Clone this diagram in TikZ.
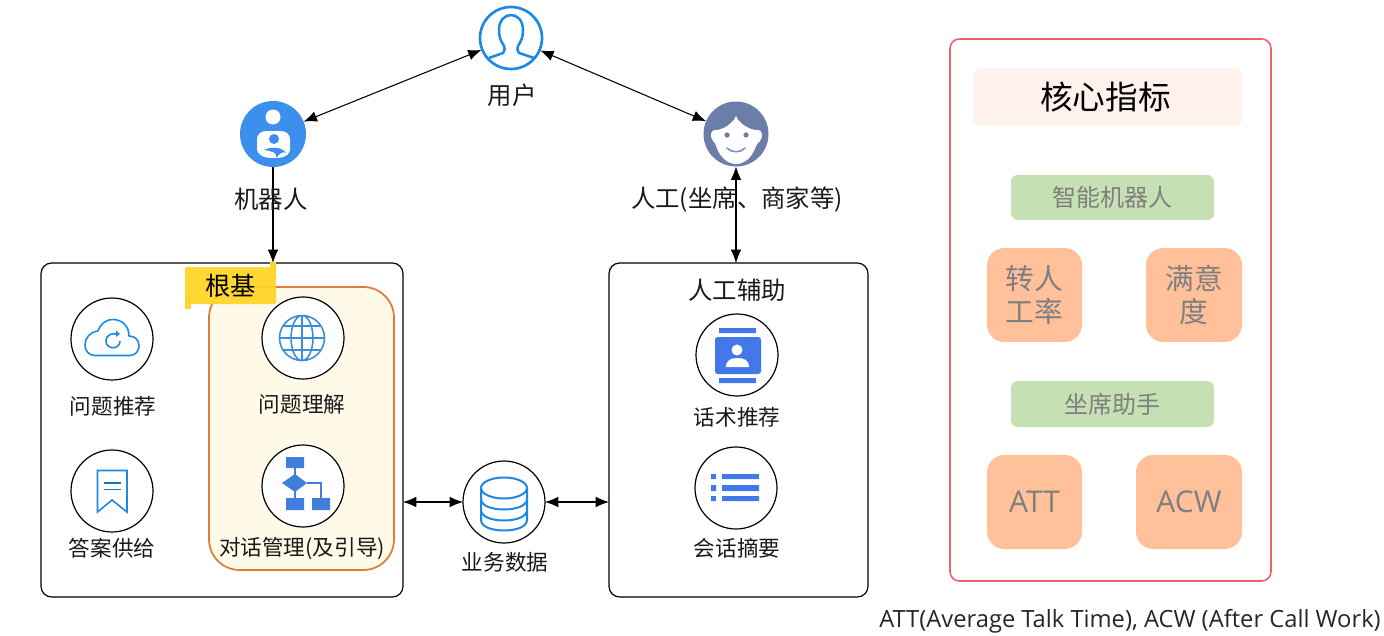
\documentclass[tikz,border=0pt]{standalone}
\usepackage{fontspec}
\setmainfont{Noto Sans CJK SC}
\newfontfamily\latinfont{Open Sans}
\usetikzlibrary{arrows.meta}
\definecolor{iconblue}{HTML}{1E88E5}
\definecolor{robotblue}{HTML}{3D8FEE}
\definecolor{facegrey}{HTML}{6B7DA8}
\definecolor{flatblue}{HTML}{4278EA}
\definecolor{flowblue}{HTML}{3F7FDB}
\definecolor{globeblue}{HTML}{3A8FDB}
\definecolor{tagyellow}{HTML}{FFD426}
\definecolor{rootline}{HTML}{E07B39}
\definecolor{rootfill}{HTML}{FFFAE8}
\definecolor{panelred}{HTML}{F0606A}
\definecolor{titlefill}{HTML}{FFF1EC}
\definecolor{greenfill}{HTML}{C5E0B3}
\definecolor{orangefill}{HTML}{FFC09A}
\definecolor{metrictext}{HTML}{7F7F7F}
\tikzset{
  sized/.style n args={2}{minimum width=#1*0.75pt,minimum height=#2*0.75pt,inner sep=0pt,outer sep=0pt},
  iconring/.style={circle,draw=black,line width=0.9pt,fill=white,minimum size=#1*0.75pt,inner sep=0pt,outer sep=0pt},
  bigbox/.style={draw=black,line width=0.9pt,rounded corners=8pt},
  lab/.style={font=\fontsize{16.2}{18}\selectfont,inner sep=0pt,text=black!90},
  toplab/.style={font=\fontsize{18.3}{20}\selectfont,inner sep=0pt,text=black!90},
  green/.style={fill=greenfill,rounded corners=5pt,text=metrictext,font=\fontsize{18}{20}\selectfont},
  metric/.style={fill=orangefill,rounded corners=13pt,text=metrictext,align=center,font=\fontsize{21.5}{25}\selectfont},
  dbl/.style={{Latex[length=10pt,width=8pt]}-{Latex[length=10pt,width=8pt]},line width=0.8pt,black},
  solo/.style={-{Latex[length=10pt,width=8pt]},line width=0.8pt,black},
}
\begin{document}
\begin{tikzpicture}[x=0.75pt,y=-0.75pt]
\useasboundingbox (0,0) rectangle (1384,635);
% big boxes
\node[bigbox,sized={362}{334}] (leftbox) at (222,430) {};
\node[bigbox,sized={259}{334}] (rightbox) at (738.5,430) {};
\node[draw=rootline,fill=rootfill,line width=1.3pt,rounded corners=23pt,sized={185}{283}] (rootbox) at (301.5,428.5) {};
% top actors
\node[circle,draw=iconblue,line width=2pt,fill=white,minimum size=62*0.75pt,inner sep=0pt,outer sep=0.6pt] (user) at (511,38) {};
\node[circle,fill=robotblue,minimum size=66*0.75pt,inner sep=0pt,outer sep=0pt] (robot) at (273,134) {};
\node[circle,fill=facegrey,minimum size=65*0.75pt,inner sep=0pt,outer sep=0pt] (human) at (736,134) {};
% user glyph
\draw[iconblue,line width=1.9pt,line join=round] (489,58) -- (503,53) .. controls (505,51) and (505,48) .. (504,46) .. controls (500,40) and (499,36) .. (499,30) .. controls (499,20) and (505,15) .. (511,15) .. controls (517,15) and (523,20) .. (523,30) .. controls (523,36) and (522,40) .. (518,46) .. controls (517,48) and (517,51) .. (519,53) -- (534,58);
% robot glyph
\fill[white] (273,117) circle (7.5);
\fill[white] (257,140) .. controls (257,133) and (262,131) .. (267,131) -- (280,131) .. controls (285,131) and (290,133) .. (290,140) -- (290,150) .. controls (288,158) and (280,158) .. (273,158) .. controls (263,158) and (257,155) .. (257,148) -- cycle;
\fill[robotblue] (274,139) circle (5);
\fill[robotblue] (264,150) .. controls (270,147) and (281,146) .. (286,153) .. controls (283,151) and (280,153) .. (276,158) .. controls (278,153) and (272,151) .. (264,150) -- cycle;
% human glyph
\begin{scope}
\clip (736,134) circle (32.5);
\fill[white] (736,116) .. controls (733,124) and (722,130) .. (716,130) .. controls (711,129) and (709,136) .. (713,141) .. controls (715,143) and (716,144) .. (716,146) .. controls (720,158) and (728,164) .. (736,164) .. controls (744,164) and (752,158) .. (756,146) .. controls (757,144) and (758,143) .. (760,141) .. controls (764,136) and (762,129) .. (757,130) .. controls (750,130) and (739,124) .. (736,116) -- cycle;
\end{scope}
\fill[facegrey] (727,135) circle (2.6) (746,135) circle (2.6);
\draw[facegrey!85,line width=1.2pt,line cap=round] (727,148) .. controls (731,153) and (741,153) .. (745,148);
% top labels
\node[toplab] (userlab) at (512,95) {用户};
\draw[solo] (robot.south) -- (robot.south |- leftbox.north);
\draw[dbl] (human.south) -- (human.south |- rightbox.north);
\node[toplab] (robotlab) at (271,199) {机器人};
\node[toplab] (humanlab) at (737,200) {人工(坐席、商家等)};
\draw[dbl] (robot) -- (user);
\draw[dbl] (user) -- (human);
% tag
\node[fill=tagyellow,sized={91}{37},opacity=0.93,rounded corners=1pt,text opacity=1,text=black,font=\fontsize{19}{20}\selectfont] (tag) at (230.5,285.5) {根基};
\fill[tagyellow] (185,296) rectangle (191,309);
\fill[tagyellow] (270,262) rectangle (276,270);
% left rings
\node[iconring=82] (recommend) at (112,339) {};
\node[iconring=82] (supply) at (112,491) {};
\node[iconring=82] (understand) at (303,338) {};
\node[iconring=82] (dialog) at (303,486) {};
\node[iconring=82] (script) at (737,355) {};
\node[iconring=82] (summary) at (736,488) {};
\node[iconring=82] (bizdata) at (504,502) {};
\draw[dbl] (leftbox.east |- bizdata) -- (bizdata);
\draw[dbl] (bizdata) -- (rightbox.west |- bizdata);
% labels
\node[lab] (l1) at (113,406) {问题推荐};
\node[lab] (l2) at (112,548) {答案供给};
\node[lab] (l3) at (302,404) {问题理解};
\node[lab] (l4) at (302,548) {对话管理(及引导)};
\node[lab] (l5) at (505,562) {业务数据};
\node[toplab] (l6) at (737,290) {人工辅助};
\node[lab] (l7) at (737,417) {话术推荐};
\node[lab] (l8) at (737,548) {会话摘要};
% cloud icon
\draw[iconblue,line width=1.2pt,line join=round] (95,355.5) -- (130,355.5) .. controls (136,355.5) and (139,350) .. (139,346) .. controls (139,340) and (135,336) .. (129,336) .. controls (129,326) and (122,319.5) .. (113,319.5) .. controls (105,319.5) and (100,325) .. (98,331) .. controls (90,332) and (85,338) .. (85,345) .. controls (85,351) and (89,355.5) .. (95,355.5) -- cycle;
\draw[iconblue,line width=1.2pt] (118,335) .. controls (114,332) and (106,334) .. (106,341) .. controls (106,350) and (120,350) .. (120,341);
\fill[iconblue] (116,330.5) -- (120,334) -- (116,337) -- cycle;
% bookmark icon
\draw[iconblue,line width=1.2pt,line join=miter] (97.5,470.5) -- (127,470.5) -- (127,512) -- (112,500) -- (97.5,512) -- cycle;
\draw[iconblue!85!black,line width=1.4pt] (104,483) -- (121,483) (104,489.5) -- (121,489.5);
% globe icon
\draw[globeblue,line width=1.2pt] (302,338) circle (22.5) (302,338) ellipse (11 and 22.5) (302,315.5) -- (302,360.5) (279.5,338) -- (324.5,338) (283,326) -- (321,326) (283,350) -- (321,350);
% flow icon
\draw[flowblue,line width=1pt] (295,468) -- (295,498) (307,483) -- (321,483) -- (321,498);
\fill[flowblue] (286,457) rectangle (304,468) (286,498) rectangle (304,510) (312,498) rectangle (330,510);
\fill[flowblue] (282,483) -- (295,474) -- (307,483) -- (295,492) -- cycle;
% contact icon
\fill[flatblue,rounded corners=2pt] (715,337) rectangle (761,374);
\fill[flatblue] (719,328) rectangle (756,333) (719,378) rectangle (756,383);
\fill[white] (737,350) circle (5.5);
\fill[white] (726,367) .. controls (726,360) and (731,358) .. (737.5,358) .. controls (744,358) and (749,360) .. (749,367) -- cycle;
% list icon
\fill[flatblue] (711,474) rectangle (716,479) (711,485) rectangle (716,491) (711,496) rectangle (716,501);
\fill[flatblue] (722,474) rectangle (759,479) (722,485) rectangle (759,491) (722,496) rectangle (759,501);
% database icon
\draw[iconblue,line width=1.5pt] (504,488) ellipse (23 and 10.5);
\draw[iconblue,line width=1.5pt] (481,488) -- (481,520) .. controls (481,534) and (527,534) .. (527,520) -- (527,488);
\draw[iconblue,line width=1.5pt] (481,499) .. controls (481,513) and (527,513) .. (527,499) (481,510) .. controls (481,524) and (527,524) .. (527,510);
% right panel
\node[draw=panelred,line width=1.2pt,rounded corners=7pt,sized={321}{542}] (panel) at (1110.5,310) {};
\node[fill=titlefill,rounded corners=6pt,sized={269}{58},text=black] (title) at (1107.5,97) {\hspace{-3pt}\fontsize{24.5}{27}\selectfont 核心指标};
\node[green,sized={203}{45}] (g1) at (1112.5,197.5) {智能机器人};
\node[green,sized={203}{46}] (g2) at (1112.5,404) {坐席助手};
\node[metric,sized={95}{94}] (m1) at (1034.5,295) {转人\\工率};
\node[metric,sized={96}{94}] (m2) at (1194,295) {满意\\度};
\node[metric,sized={95}{94},font=\latinfont\fontsize{22.5}{25}\selectfont] (m3) at (1034.5,502) {ATT};
\node[metric,sized={106}{94},font=\latinfont\fontsize{22.5}{25}\selectfont] (m4) at (1189,502) {ACW};
\node[inner sep=0pt,anchor=west,font=\latinfont\fontsize{17.8}{20}\selectfont,text=black!85] (note) at (879,621) {ATT(Average Talk Time), ACW (After Call Work)};
\end{tikzpicture}
\end{document}
